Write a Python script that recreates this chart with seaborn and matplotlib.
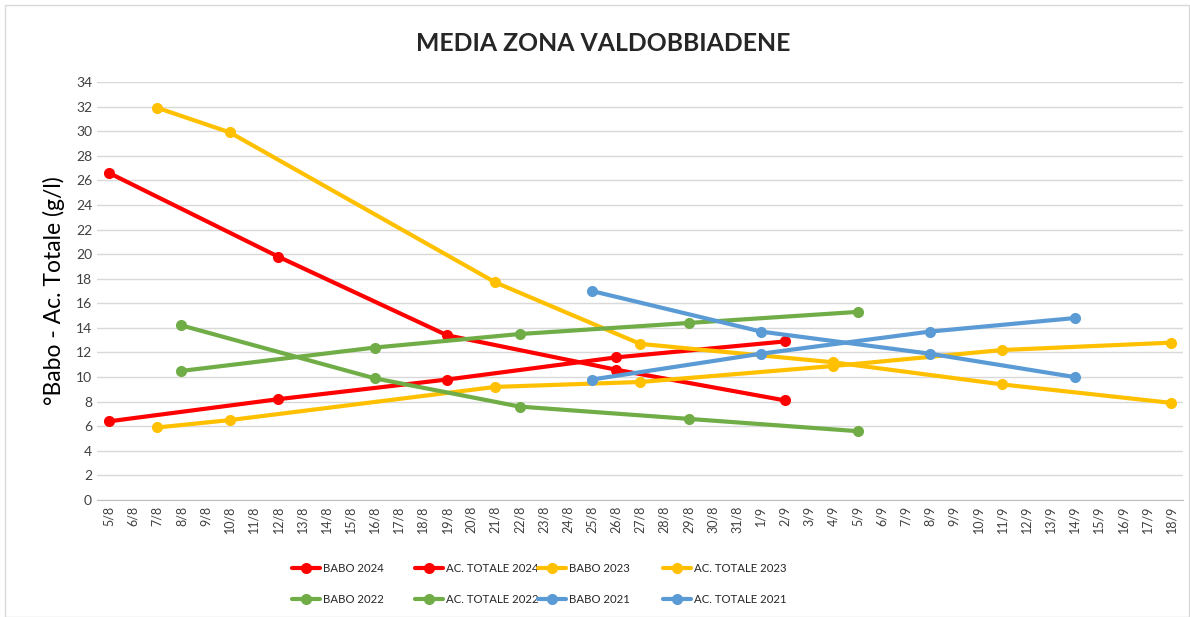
import numpy as np
import pandas as pd
import matplotlib
matplotlib.use('Agg')
import matplotlib.pyplot as plt
import seaborn as sns
from matplotlib.patches import Rectangle

# asse x: un giorno per categoria
days = [f'{d}/8' for d in range(5, 32)] + [f'{d}/9' for d in range(1, 19)]

# dati per serie
babo_2024_x = ['5/8', '12/8', '19/8', '26/8', '2/9']
babo_2024_y = [26.6, 19.8, 13.4, 10.6, 8.1]
ac_2024_x = ['5/8', '12/8', '19/8', '26/8', '2/9']
ac_2024_y = [6.4, 8.2, 9.8, 11.6, 12.9]

babo_2023_x = ['7/8', '10/8', '21/8', '27/8', '4/9', '11/9', '18/9']
babo_2023_y = [31.9, 29.9, 17.7, 12.7, 11.2, 9.4, 7.9]
ac_2023_x = ['7/8', '10/8', '21/8', '27/8', '4/9', '11/9', '18/9']
ac_2023_y = [5.9, 6.5, 9.2, 9.6, 10.9, 12.2, 12.8]

babo_2022_x = ['8/8', '16/8', '22/8', '29/8', '5/9']
babo_2022_y = [14.2, 9.9, 7.6, 6.6, 5.6]
ac_2022_x = ['8/8', '16/8', '22/8', '29/8', '5/9']
ac_2022_y = [10.5, 12.4, 13.5, 14.4, 15.3]

babo_2021_x = ['25/8', '1/9', '8/9', '14/9']
babo_2021_y = [17.0, 13.7, 11.9, 10.0]
ac_2021_x = ['25/8', '1/9', '8/9', '14/9']
ac_2021_y = [9.8, 11.9, 13.7, 14.8]

series = [
    ('BABO 2024', babo_2024_x, babo_2024_y, '#FF0000'),
    ('AC. TOTALE 2024', ac_2024_x, ac_2024_y, '#FF0000'),
    ('BABO 2023', babo_2023_x, babo_2023_y, '#FFC000'),
    ('AC. TOTALE 2023', ac_2023_x, ac_2023_y, '#FFC000'),
    ('BABO 2022', babo_2022_x, babo_2022_y, '#70AD47'),
    ('AC. TOTALE 2022', ac_2022_x, ac_2022_y, '#70AD47'),
    ('BABO 2021', babo_2021_x, babo_2021_y, '#5B9BD5'),
    ('AC. TOTALE 2021', ac_2021_x, ac_2021_y, '#5B9BD5'),
]

sns.set_style('white')
plt.rcParams['font.family'] = ['Lato', 'DejaVu Sans']

fig = plt.figure(figsize=(11.9, 6.17), dpi=100)
ax = fig.add_axes([0.0815, 0.1896, 0.913, 0.6775])

# bordo del grafico
fig.patches.append(Rectangle((0.004, 0.0), 0.995, 0.992, transform=fig.transFigure,
                             fill=False, edgecolor='#D9D9D9', linewidth=1))

for name, xs, ys, col in series:
    df = pd.DataFrame({'x': [days.index(d) for d in xs], 'y': ys})
    sns.lineplot(data=df, x='x', y='y', ax=ax, color=col, linewidth=3,
                 marker='o', markersize=8, markeredgewidth=0, label=name)

ax.set_xlim(-0.5, len(days) - 0.5)
ax.set_ylim(0, 34)
ax.set_yticks(range(0, 35, 2))
ax.set_xticks(range(len(days)))
ax.set_xticklabels(days, rotation=90, fontsize=9, color='#404040')
ax.set_xticks(np.arange(-0.5, len(days), 1), minor=True)
ax.tick_params(axis='x', which='major', length=0, pad=4)
ax.tick_params(axis='x', which='minor', length=5, color='#BFBFBF', width=1)
ax.tick_params(axis='y', labelsize=10, labelcolor='#404040', length=0)
ax.grid(axis='y', color='#D9D9D9', linewidth=1)
ax.set_axisbelow(True)
for s in ['top', 'right', 'left']:
    ax.spines[s].set_visible(False)
ax.spines['bottom'].set_color('#BFBFBF')

ax.set_xlabel('')
ax.set_ylabel('°Babo - Ac. Totale (g/l)', fontsize=16.5, color='#000000', labelpad=8)
fig.text(0.507, 0.93, 'MEDIA ZONA VALDOBBIADENE', ha='center', va='center',
         fontsize=17.8, fontweight='bold')

# legenda: 4 colonne a larghezza fissa, 2 righe ciascuna
h, l = ax.get_legend_handles_labels()
ax.get_legend().remove()
col_left = [0.2454, 0.3487, 0.4521, 0.5571]
for c in range(4):
    idx = [c, c + 4]
    leg = fig.legend([h[i] for i in idx], [l[i] for i in idx], ncol=1,
                     loc='upper left', bbox_to_anchor=(col_left[c], 0.0875),
                     frameon=False, fontsize=8.2, handlelength=2.5,
                     handletextpad=0.2, labelspacing=1.75, borderpad=0,
                     borderaxespad=0)

fig.savefig('out.png', dpi=100)
